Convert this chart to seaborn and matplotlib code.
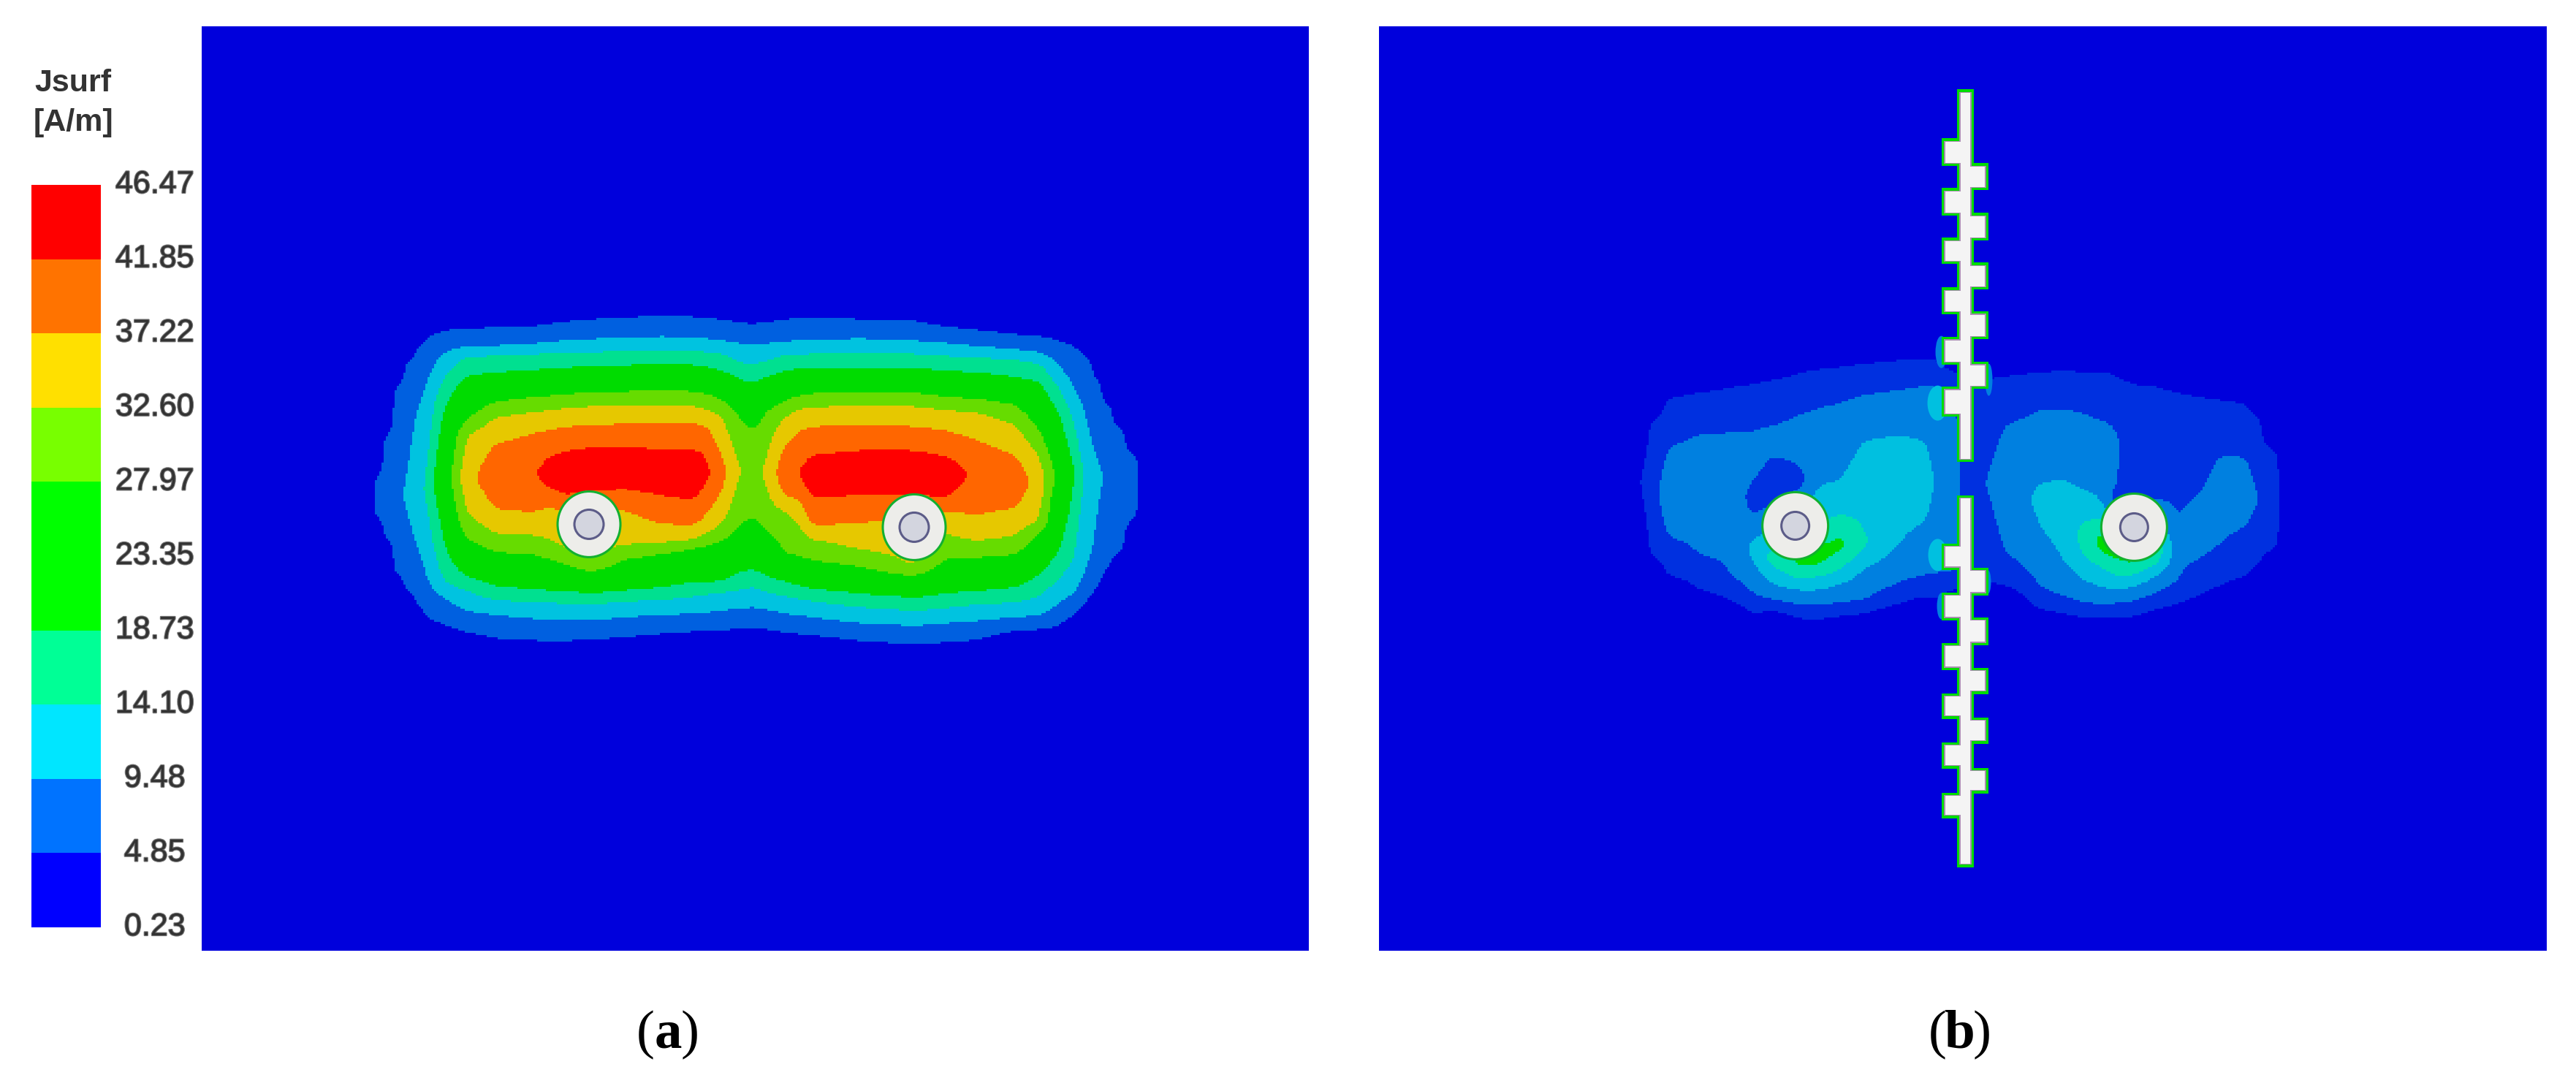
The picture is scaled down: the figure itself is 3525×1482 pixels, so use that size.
import numpy as np
import matplotlib
matplotlib.use("Agg")
import matplotlib.pyplot as plt
import matplotlib.patheffects as pe
from matplotlib.colors import ListedColormap, BoundaryNorm
from matplotlib.patches import Ellipse, Rectangle
import seaborn as sns

W, H = 3525, 1482

# ---------- legend ----------
legend_title = ["Jsurf", "[A/m]"]
legend_labels = ["46.47", "41.85", "37.22", "32.60", "27.97", "23.35",
                 "18.73", "14.10", "9.48", "4.85", "0.23"]
legend_colors = ["#FF0000", "#FF7300", "#FFE000", "#78FF00", "#00FF00",
                 "#00FF00", "#00FF96", "#00E6FF", "#0073FF", "#0000FF"]
band_rows = [9, 8, 7, 6, 5, 4, 3, 2, 1, 0]

# ---------- panel (a): surface current ----------
# Band index k (k bands above the lowest legend value).  Each row is a probe
# column: x, y of the ridge, k at the ridge, y where k is crossed going down
# to the ridge, y where it is crossed going down from the ridge.
colors_a = ["#0000DC", "#0060E0", "#00C3E0", "#00E090", "#00DC00",
            "#00DC00", "#66DC00", "#E6C800", "#FF6600", "#FF0000"]
crossed_levels = [1, 2, 3, 4, 6, 7, 8, 9]
probes_a = [
    (42, 780, 1.02, [700], [870]),
    (60, 750, 1.33, [530], [950]),
    (80, 760, 1.66, [320], [1105]),
    (100, 780, 2.05, [225], [1170]),
    (120, 760, 2.55, [165, 440], [965, 1230]),
    (140, 750, 3.05, [115, 330], [1090, 1290]),
    (175, 700, 5.4, [90, 190, 285, 410], [970, 1135, 1195, 1315]),
    (215, 700, 7.6, [85, 168, 198, 285, 465, 525], [850, 955, 1110, 1165, 1250, 1345]),
    (270, 700, 8.8, [78, 165, 196, 270, 390, 450, 558], [835, 935, 1010, 1150, 1205, 1265, 1370]),
    (340, 680, 8.95, [75, 155, 190, 260, 370, 430, 515], [850, 940, 1020, 1165, 1215, 1280, 1378]),
    (370, 690, 9.4, [65, 150, 188, 255, 365, 423, 505, 610], [745, 825, 960, 1040, 1168, 1216, 1283, 1379]),
    (400, 690, 9.7, [55, 140, 185, 250, 357, 415, 490, 590], [780, 830, 1000, 1060, 1172, 1218, 1287, 1380]),
    (450, 690, 9.9, [45, 135, 185, 245, 352, 405, 485, 575], [760, 810, 1050, 1090, 1178, 1222, 1290, 1372]),
    (510, 650, 10, [38, 130, 180, 240, 347, 398, 478, 578], [750, 835, 985, 1040, 1170, 1210, 1275, 1365]),
    (580, 680, 10, [30, 125, 176, 236, 345, 402, 476, 585], [775, 895, 975, 1015, 1155, 1205, 1265, 1350]),
    (640, 700, 10, [35, 130, 180, 238, 346, 406, 476, 590], [795, 905, 962, 990, 1135, 1190, 1262, 1340]),
    (655, 680, 10, [38, 133, 183, 245, 352, 415, 478, 590], [745, 880, 945, 985, 1135, 1185, 1258, 1340]),
    (670, 680, 8.9, [40, 135, 185, 250, 360, 425, 500], [840, 925, 975, 1135, 1180, 1255, 1338]),
    (690, 680, 8.5, [45, 140, 190, 260, 375, 445, 590], [780, 900, 965, 1132, 1172, 1250, 1335]),
    (725, 670, 7.05, [58, 152, 225, 295, 450, 660], [905, 1095, 1165, 1240, 1330]),
    (750, 680, 6.6, [65, 160, 240, 315, 500], [870, 1080, 1150, 1235, 1325]),
    (770, 680, 7.05, [58, 155, 225, 290, 440, 670], [910, 1103, 1170, 1240, 1330]),
    (810, 680, 8.7, [45, 145, 197, 262, 385, 450, 560], [790, 840, 1020, 1130, 1190, 1260, 1345]),
    (835, 680, 8.95, [40, 142, 194, 255, 365, 420, 505], [790, 880, 1030, 1145, 1200, 1268, 1350]),
    (860, 690, 9.8, [38, 140, 192, 252, 355, 408, 490, 610], [785, 905, 955, 1045, 1160, 1210, 1275, 1355]),
    (950, 680, 10, [45, 132, 190, 250, 350, 405, 480, 590], [775, 890, 1000, 1070, 1180, 1235, 1300, 1378]),
    (1050, 680, 10, [50, 142, 192, 252, 352, 406, 490, 590], [770, 850, 1075, 1105, 1195, 1250, 1310, 1395]),
    (1110, 700, 10, [75, 150, 200, 262, 368, 420, 505, 615], [790, 845, 930, 1040, 1180, 1240, 1300, 1385]),
    (1135, 690, 9.8, [82, 158, 203, 266, 373, 425, 522, 650], [735, 850, 950, 1036, 1175, 1232, 1295, 1380]),
    (1150, 690, 8.9, [85, 160, 204, 268, 375, 428, 530], [855, 958, 1034, 1172, 1228, 1292, 1378]),
    (1170, 700, 8.85, [90, 165, 205, 270, 378, 430, 545], [860, 965, 1032, 1170, 1225, 1290, 1375]),
    (1240, 715, 8.7, [108, 178, 212, 290, 400, 480, 605], [830, 945, 1020, 1155, 1215, 1278, 1335]),
    (1285, 720, 7.6, [115, 190, 230, 305, 505, 610], [890, 930, 1100, 1190, 1270, 1330]),
    (1320, 690, 5.7, [130, 245, 330, 430], [1005, 1120, 1220, 1320]),
    (1350, 680, 4.1, [150, 345, 480], [1040, 1180, 1275]),
    (1365, 700, 3.05, [175, 410], [1120, 1240]),
    (1385, 720, 2.6, [215, 590], [1020, 1195]),
    (1400, 700, 2.05, [300], [1145]),
    (1420, 700, 1.7, [400], [1080]),
    (1445, 700, 1.35, [500], [1010]),
    (1470, 700, 1.05, [600], [880]),
]
probe_a_origin = (480, 420)
probe_a_scale = (1.3635, 3.0)

# ---------- panel (b): same idea, explicit y / k per probe column ----------
colors_b = ["#0000DC", "#0030E0", "#0080E0", "#00C0E0", "#00E0B0", "#00DC00"]
probes_b = [
    (70, [400, 600, 800], [0, 1.0, 0]),
    (90, [310, 350, 650, 900, 940], [0, 1, 1.6, 1, 0]),
    (130, [205, 245, 450, 650, 830, 990, 1030], [0, 1, 2, 2.4, 2, 1, 0]),
    (200, [182, 222, 395, 650, 905, 1050, 1090], [0, 1, 2, 2.5, 2, 1, 0]),
    (270, [160, 200, 390, 650, 985, 1095, 1135], [0, 1, 2, 2.5, 2, 1, 0]),
    (320, [145, 185, 388, 500, 590, 660, 745, 830, 880, 925, 1060, 1150, 1190],
          [0, 1, 2, 2.3, 2, 1.7, 2, 3, 3.3, 3, 2, 1, 0]),
    (360, [130, 170, 370, 430, 490, 600, 700, 800, 880, 910, 945, 1020, 1085, 1130, 1170],
          [0, 1, 2, 2.4, 2, 1.6, 2, 3, 4, 4.6, 4, 3, 2, 1, 0]),
    (420, [100, 140, 318, 400, 530, 600, 720, 915, 950, 1000, 1045, 1105, 1165, 1205],
          [0, 1, 2, 2.3, 2, 1.6, 3, 5.3, 5, 4, 3, 2, 1, 0]),
    (460, [88, 128, 290, 560, 780, 900, 945, 990, 1045, 1110, 1170, 1210],
          [0, 1, 2, 2.7, 4, 5.5, 5, 4, 3, 2, 1, 0]),
    (510, [78, 118, 270, 590, 680, 735, 825, 860, 885, 960, 1020, 1095, 1155, 1195],
          [0, 1, 2, 3, 3.4, 4, 5, 5.3, 5, 4, 3, 2, 1, 0]),
    (560, [65, 105, 240, 425, 650, 810, 850, 870, 955, 1090, 1145, 1185],
          [0, 1, 2, 3, 3.7, 4, 4.2, 4, 3, 2, 1, 0]),
    (640, [52, 92, 218, 400, 620, 850, 1015, 1105, 1145], [0, 1, 2, 3, 3.6, 3, 2, 1, 0]),
    (700, [50, 90, 195, 430, 600, 760, 985, 1075, 1115], [0, 1, 2, 3, 3.5, 3, 2, 1, 0]),
    (720, [52, 92, 200, 600, 985, 1090, 1130], [0, 1, 2, 2.8, 2, 1, 0]),
    (770, [110, 150, 340, 600, 980, 1040, 1080], [0, 1, 2, 2.05, 2, 1, 0]),
    (800, [120, 160, 600, 1030, 1070], [0, 1, 1.5, 1, 0]),
    (828, [125, 165, 600, 1025, 1065], [0, 1, 2.0, 1, 0]),
    (870, [115, 155, 365, 620, 890, 1030, 1070], [0, 1, 2, 2.6, 2, 1, 0]),
    (950, [98, 138, 298, 600, 680, 790, 1040, 1130, 1170], [0, 1, 2, 3, 3.2, 3, 2, 1, 0]),
    (1000, [95, 135, 296, 590, 740, 920, 1075, 1145, 1185], [0, 1, 2, 3, 3.6, 3, 2, 1, 0]),
    (1040, [97, 137, 312, 635, 770, 830, 890, 1000, 1095, 1160, 1200],
           [0, 1, 2, 3, 4, 4.3, 4, 3, 2, 1, 0]),
    (1085, [100, 140, 345, 500, 690, 750, 800, 850, 900, 950, 1035, 1105, 1165, 1205],
           [0, 1, 2, 2.6, 3, 4, 5, 5.5, 5, 4, 3, 2, 1, 0]),
    (1110, [105, 145, 370, 450, 620, 660, 900, 920, 985, 1040, 1100, 1165, 1205],
           [0, 1, 2, 2.4, 2, 1.5, 5.3, 5, 4, 3, 2, 1, 0]),
    (1150, [140, 180, 600, 790, 920, 940, 985, 1035, 1090, 1160, 1200],
           [0, 1, 1.5, 3, 5.3, 5, 4, 3, 2, 1, 0]),
    (1210, [150, 190, 500, 640, 880, 935, 975, 1050, 1125, 1165],
           [0, 1, 1.5, 1.6, 4.5, 4, 3, 2, 1, 0]),
    (1250, [175, 215, 500, 775, 850, 1000, 1110, 1150], [0, 1, 1.6, 2, 2.4, 2, 1, 0]),
    (1300, [195, 235, 650, 800, 915, 1075, 1115], [0, 1, 2, 2.6, 2, 1, 0]),
    (1340, [210, 250, 490, 680, 860, 1040, 1080], [0, 1, 2, 2.5, 2, 1, 0]),
    (1400, [225, 265, 495, 650, 785, 1000, 1040], [0, 1, 2, 2.5, 2, 1, 0]),
    (1428, [280, 320, 680, 950, 990], [0, 1, 2.0, 1, 0]),
    (1470, [430, 470, 700, 880, 920], [0, 1, 1.2, 1, 0]),
]
probe_b_origin = (2200, 460)
probe_b_scale = (1.6, 3.0)

# small patches of raised current at the slot edges of panel (b):
# centre x, centre y, half width, half height, band colour reached
edge_halos = [
    (2652, 552, 14, 24, 3),
    (2652, 760, 13, 22, 3),
    (2657, 482, 8, 22, 2),
    (2722, 520, 5, 22, 2),
    (2657, 830, 6, 18, 2),
    (2721, 797, 4, 16, 2),
    (2677, 603, 6, 30, 2),
    (2678, 712, 5, 30, 2),
]

# ---------- geometry ----------
panel_a_box = (276, 36, 1791, 1301)
panel_b_box = (1887, 36, 3485, 1301)
legend_box = (43, 253, 138, 1269)
conductors_a = [(806, 718), (1251, 722)]
conductors_b = [(2457, 720), (2921, 722)]
stems = [(2683, 2697, 127, 628), (2683, 2697, 683, 1183)]
left_teeth = [(194, 223), (262, 291), (330, 357), (398, 426), (466, 495), (534, 566),
              (749, 776), (816, 845), (885, 913), (954, 980), (1021, 1048), (1090, 1116)]
right_teeth = [(228, 256), (296, 325), (364, 392), (431, 460), (500, 528),
               (782, 811), (850, 879), (919, 946), (987, 1014), (1056, 1082)]
tooth_left_x, tooth_right_x = 2662, 2717
captions = [("a", 914, 1416), ("b", 2682, 1416)]

CELL = 3


def field_from_columns(columns, box, origin, scale):
    x0, y0, x1, y1 = box
    X = np.arange(x0 + CELL / 2, x1, CELL)
    Y = np.arange(y0 + CELL / 2, y1, CELL)
    cx = [x0, origin[0] + (columns[0][0] - 30) / scale[0]]
    rows = [np.zeros_like(Y), np.zeros_like(Y)]
    for zx, ys, ks in columns:
        cx.append(origin[0] + zx / scale[0])
        rows.append(np.interp(Y, origin[1] + np.array(ys) / scale[1], ks))
    cx += [origin[0] + (columns[-1][0] + 30) / scale[0], x1]
    rows += [np.zeros_like(Y), np.zeros_like(Y)]
    rows = np.array(rows)
    F = np.array([np.interp(X, cx, rows[:, j]) for j in range(len(Y))])
    # box smoothing so that the contour steps lose their kinks
    for _ in range(8):
        P = np.pad(F, 1, mode="edge")
        F = (P[:-2, 1:-1] + P[2:, 1:-1] + P[1:-1, :-2] + P[1:-1, 2:] + P[1:-1, 1:-1]) / 5
    return F


def expand_a(rows):
    out = []
    for zx, py, pk, tops, bots in rows:
        t = crossed_levels[:len(tops)]
        b = crossed_levels[:len(bots)][::-1]
        ys = [tops[0] - 40] + tops + [py] + bots + [bots[-1] + 40]
        ks = [0] + t + [pk] + b + [0]
        out.append((zx, ys, ks))
    return out


sns.set_theme(style="white")
plt.rcParams["font.family"] = ["Liberation Sans", "DejaVu Sans"]
fig = plt.figure(figsize=(W / 100, H / 100), dpi=100, facecolor="white")


def add_axes(box):
    x0, y0, x1, y1 = box
    return fig.add_axes([x0 / W, 1 - y1 / H, (x1 - x0) / W, (y1 - y0) / H])


def draw_panel(box, columns, origin, scale, colors):
    ax = add_axes(box)
    F = field_from_columns(columns, box, origin, scale)
    cmap = ListedColormap(colors)
    norm = BoundaryNorm(list(range(len(colors))) + [99], cmap.N)
    sns.heatmap(F, ax=ax, cmap=cmap, norm=norm, cbar=False,
                xticklabels=False, yticklabels=False, linewidths=0, rasterized=True)
    return ax


def to_ax(box):
    return lambda x, y: ((x - box[0]) / CELL, (y - box[1]) / CELL)


def draw_conductors(ax, box, centres, rx, ry, r_in):
    p = to_ax(box)
    for cx, cy in centres:
        c = p(cx, cy)
        ax.add_patch(Ellipse(c, 2 * (rx + 1) / CELL, 2 * (ry + 1) / CELL, fc="#EDEDEA",
                             ec="#12B030", lw=2.2, zorder=5))
        ax.add_patch(Ellipse(c, 2 * r_in / CELL, 2 * r_in / CELL, fc="#D3D5DF",
                             ec="#5C5C88", lw=2.2, zorder=6))


ax_a = draw_panel(panel_a_box, expand_a(probes_a), probe_a_origin, probe_a_scale, colors_a)
draw_conductors(ax_a, panel_a_box, conductors_a, 42, 44, 20)

ax_b = draw_panel(panel_b_box, probes_b, probe_b_origin, probe_b_scale, colors_b)
draw_conductors(ax_b, panel_b_box, conductors_b, 44, 45, 19)

pb = to_ax(panel_b_box)
for hx, hy, rx, ry, top in edge_halos:
    ax_b.add_patch(Ellipse(pb(hx, hy), 2 * rx / CELL, 2 * ry / CELL,
                           fc=colors_b[top], ec="none", zorder=4))

# comb-shaped slot in panel (b)
rects = []
for xa, xb, ya, yb in stems:
    rects.append((xa, xb, ya, yb))
for ya, yb in left_teeth:
    rects.append((tooth_left_x, stems[0][0] + 2, ya, yb))
for ya, yb in right_teeth:
    rects.append((stems[0][1] - 2, tooth_right_x, ya, yb))
for col, grow, z in [("#00DC00", 4.5, 7), ("#A88FB0", 1.2, 8), ("#F4F4F4", 0, 9)]:
    for xa, xb, ya, yb in rects:
        ax_b.add_patch(Rectangle(pb(xa - grow, ya - grow), (xb - xa + 2 * grow) / CELL,
                                 (yb - ya + 2 * grow) / CELL, fc=col, ec="none", zorder=z))

# legend bar
soft = [pe.withStroke(linewidth=1.6, foreground="#777777")]
ax_l = add_axes(legend_box)
sns.heatmap(np.array(band_rows)[:, None], ax=ax_l, cmap=ListedColormap(legend_colors[::-1]),
            vmin=-0.5, vmax=9.5, cbar=False, xticklabels=False, linewidths=0)
ax_l.set_yticks(np.arange(len(legend_labels)))
ax_l.set_yticklabels(legend_labels, rotation=0, ha="center", va="center",
                     fontsize=31, color="#333333", path_effects=soft)
ax_l.tick_params(axis="y", left=False, right=False, labelleft=False, labelright=True,
                 length=0, pad=53)
for i, t in enumerate(legend_title):
    fig.text(100 / W, 1 - (114 + 54 * i) / H, t, ha="center", va="center", fontsize=31,
             fontweight="bold", color="#333333")

# captions
for letter, cx, cy in captions:
    kw = dict(va="center", fontsize=54, family="Liberation Serif", color="black")
    fig.text((cx - 18) / W, 1 - cy / H, "(", ha="right", **kw)
    fig.text(cx / W, 1 - cy / H, letter, ha="center", fontweight="bold", **kw)
    fig.text((cx + 18) / W, 1 - cy / H, ")", ha="left", **kw)

fig.savefig("out.png", dpi=100, facecolor="white")
